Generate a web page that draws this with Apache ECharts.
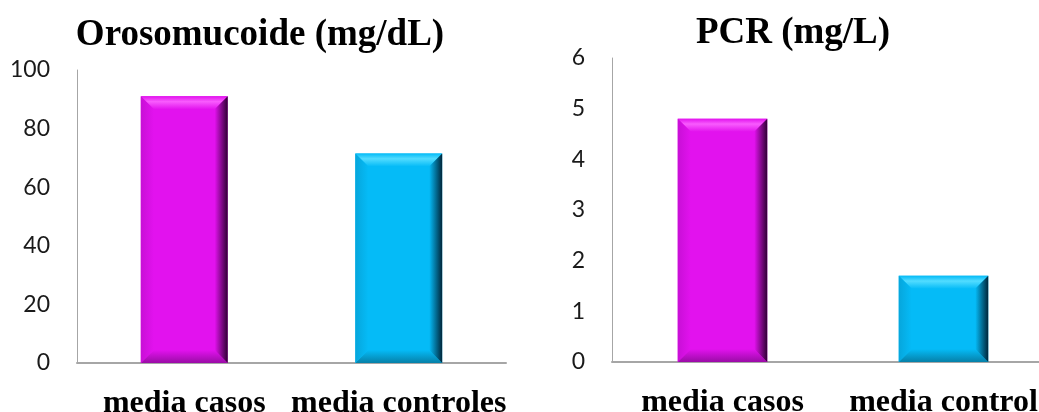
<!DOCTYPE html>
<html>
<head>
<meta charset="utf-8">
<script src="https://cdn.jsdelivr.net/npm/echarts@6/dist/echarts.min.js"></script>
<style>html,body{margin:0;padding:0;background:#fff}#c{width:1039px;height:412px}</style>
</head>
<body>
<div id="c"></div>
<script>
// Data
const categoriesLeft = ['media casos', 'media controles'];
const valuesLeft = [91, 71.5];
const categoriesRight = ['media casos', 'media control'];
const valuesRight = [4.8, 1.7];
const titleLeft = 'Orosomucoide (mg/dL)';
const titleRight = 'PCR (mg/L)';

// Styles
const palettes = [
  {main: '#E212EE', light: '#F85CFD', dark: '#2E0033', bottom: '#9A0CA6', left: '#C80FD6'},
  {main: '#05BBF7', light: '#52DCFF', dark: '#00263A', bottom: '#0680A8', left: '#06A6DC'}
];

function renderBevel(params, api) {
  const xi = api.value(0), v = api.value(1);
  const top = api.coord([xi, v]);
  const base = api.coord([xi, 0]);
  const bw = api.size([1, 0])[0] * 0.405;
  const l = top[0] - bw / 2, r = top[0] + bw / 2, t = top[1], b = base[1];
  const bv = Math.min(13, (b - t) / 3);
  const p = palettes[params.dataIndex];
  return {
    type: 'group',
    children: [
      {type: 'rect', shape: {x: l, y: t, width: r - l, height: b - t}, style: {fill: p.main}},
      {type: 'polygon', shape: {points: [[l, t], [r, t], [r - bv, t + bv], [l + bv, t + bv]]},
        style: {fill: new echarts.graphic.LinearGradient(0, 0, 0, 1, [{offset: 0, color: p.main}, {offset: 0.4, color: p.light}, {offset: 1, color: p.main}])}},
      {type: 'polygon', shape: {points: [[l, b], [r, b], [r - bv, b - bv], [l + bv, b - bv]]},
        style: {fill: new echarts.graphic.LinearGradient(0, 0, 0, 1, [{offset: 0, color: p.main}, {offset: 1, color: p.bottom}])}},
      {type: 'polygon', shape: {points: [[l, t], [l + bv, t + bv], [l + bv, b - bv], [l, b]]},
        style: {fill: new echarts.graphic.LinearGradient(0, 0, 1, 0, [{offset: 0, color: p.left}, {offset: 1, color: p.main}])}},
      {type: 'polygon', shape: {points: [[r, t], [r - bv, t + bv], [r - bv, b - bv], [r, b]]},
        style: {fill: new echarts.graphic.LinearGradient(0, 0, 1, 0, [{offset: 0, color: p.main}, {offset: 1, color: p.dark}])}}
    ]
  };
}

const axisLabelY = {color: '#1a1a1a', fontFamily: 'Lato', fontSize: 23, margin: 27};
const axisLabelX = {color: '#000', fontFamily: 'Liberation Serif', fontWeight: 'bold', fontSize: 32, margin: 25, interval: 0};

const chart = echarts.init(document.getElementById('c'), null, {renderer: 'canvas'});
chart.setOption({
  animation: false,
  backgroundColor: '#fff',
  graphic: [
    {type: 'text', x: 260, y: 35, style: {text: titleLeft, align: 'center', verticalAlign: 'middle', font: 'bold 37px "Liberation Serif"', fill: '#000'}},
    {type: 'text', x: 793, y: 33, style: {text: titleRight, align: 'center', verticalAlign: 'middle', font: 'bold 37px "Liberation Serif"', fill: '#000'}}
  ],
  grid: [
    {left: 77, right: 533, top: 70, bottom: 49, containLabel: false, outerBoundsMode: 'none'},
    {left: 612, right: -15, top: 58, bottom: 50, containLabel: false, outerBoundsMode: 'none'}
  ],
  xAxis: [
    {gridIndex: 0, type: 'category', data: categoriesLeft, axisTick: {show: false},
      axisLine: {lineStyle: {color: '#a6a6a6', width: 2}}, axisLabel: axisLabelX},
    {gridIndex: 1, type: 'category', data: categoriesRight, axisTick: {show: false},
      axisLine: {lineStyle: {color: '#a6a6a6', width: 2}}, axisLabel: axisLabelX}
  ],
  yAxis: [
    {gridIndex: 0, type: 'value', min: 0, max: 100, interval: 20, splitLine: {show: false},
      axisLine: {show: true, lineStyle: {color: '#a6a6a6', width: 1}}, axisTick: {show: false}, axisLabel: axisLabelY},
    {gridIndex: 1, type: 'value', min: 0, max: 6, interval: 1, splitLine: {show: false},
      axisLine: {show: true, lineStyle: {color: '#a6a6a6', width: 1}}, axisTick: {show: false}, axisLabel: axisLabelY}
  ],
  series: [
    {type: 'custom', xAxisIndex: 0, yAxisIndex: 0, renderItem: renderBevel,
      data: valuesLeft.map((v, i) => [i, v]), encode: {x: 0, y: 1}, clip: false},
    {type: 'custom', xAxisIndex: 1, yAxisIndex: 1, renderItem: renderBevel,
      data: valuesRight.map((v, i) => [i, v]), encode: {x: 0, y: 1}, clip: false}
  ]
});
</script>
</body>
</html>
